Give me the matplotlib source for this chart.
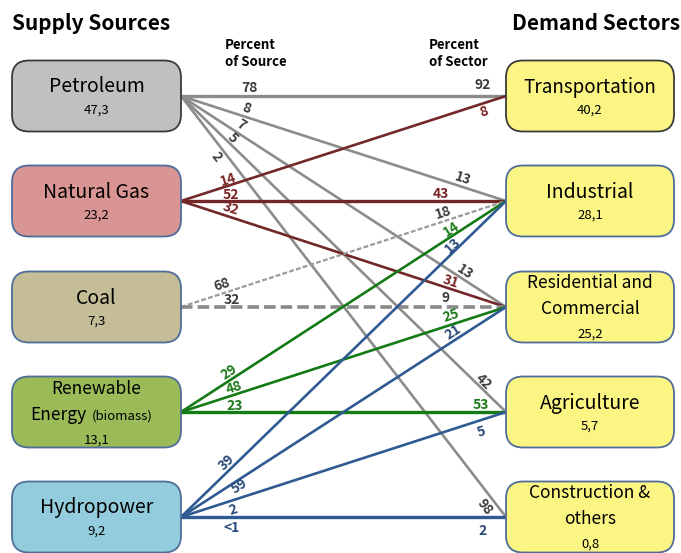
import numpy as np
import matplotlib
matplotlib.use("Agg")
import matplotlib.pyplot as plt
from matplotlib.patches import FancyBboxPatch

plt.rcParams['font.family'] = ['Noto Sans CJK KR', 'DejaVu Sans']

# ---------------- data ----------------
sources = ["Petroleum", "Natural Gas", "Coal", "Renewable", "Hydropower"]
source_values = ["47,3", "23,2", "7,3", "13,1", "9,2"]
sectors = ["Transportation", "Industrial", "Residential and\nCommercial", "Agriculture", "Construction &\nothers"]
sector_values = ["40,2", "28,1", "25,2", "5,7", "0,8"]

link_src = [0, 0, 0, 0, 0, 1, 1, 1, 2, 2, 3, 3, 3, 4, 4, 4, 4]
link_dst = [0, 1, 2, 3, 4, 0, 1, 2, 1, 2, 1, 2, 3, 1, 2, 3, 4]
pct_of_source = ["78", "8", "7", "5", "2", "14", "52", "32", "68", "32",
                 "29", "48", "23", "39", "59", "2", "<1"]
pct_of_sector = ["92", "13", "13", "42", "98", "8", "43", "31", "18", "9",
                 "14", "25", "53", "13", "21", "5", "2"]

# ---------------- layout / style ----------------
W, H = 681, 553
fig = plt.figure(figsize=(W / 100, H / 100), dpi=100)
ax = fig.add_axes([0, 0, 1, 1])
ax.set_xlim(0, W)
ax.set_ylim(H, 0)
ax.axis('off')

row_y = [96, 201, 307, 412, 517]
box_h = 71
src_x0, src_x1 = 12, 181
dst_x0, dst_x1 = 506, 674

src_fill = ['#c0c0c0', '#d99594', '#c4bd97', '#9bbb59', '#93cddd']
src_edge = ['#3a3a3a', '#4f6d99', '#4f6d99', '#4f6d99', '#4f6d99']
dst_fill = '#fbf583'
dst_edge = ['#3a3a3a', '#4f6d99', '#4f6d99', '#4f6d99', '#4f6d99']

line_col = ['#8c8c8c', '#722828', '#8c8c8c', '#137a16', '#2f5a92']
lab_col = ['#3c3c3c', '#7a2424', '#3c3c3c', '#1a7a1a', '#2a4a78']

# label offsets: (distance along line, perpendicular offset) in pixels
src_lab_off = [(68, 8), (66, 8.5), (66, 8.5), (66, 6), (70, -9),
               (52, 6), (50, 6), (50, 8),
               (46, 9), (51, 7),
               (62, 7), (58, 7), (54, 6),
               (71, 7), (66, -6), (52, -9), (51, -11)]
dst_lab_off = [(23, 11), (48, 8), (53, 7), (37, 6), (21, -11),
               (26, -8.5), (65, 7), (60, 6.5),
               (63, 8), (60, 9),
               (61, 6.5), (55, 9), (25, 7),
               (69, 5), (58, 8), (30, -11), (23, -14)]


def rbox(x0, x1, yc, fc, ec):
    p = FancyBboxPatch((x0, yc - box_h / 2), x1 - x0, box_h,
                       boxstyle="round,pad=0,rounding_size=17",
                       fc=fc, ec=ec, lw=1.3, zorder=5)
    ax.add_patch(p)


# links
for k in range(len(link_src)):
    s, d = link_src[k], link_dst[k]
    x1, y1 = src_x1, row_y[s]
    x2, y2 = dst_x0, row_y[d]
    dx, dy = x2 - x1, y2 - y1
    L = np.hypot(dx, dy)
    ux, uy = dx / L, dy / L
    nx, ny = uy, -ux
    horiz = (s == d) or abs(dy) < 3
    lw = 2.4 if horiz else 1.9
    if s == 2:
        if horiz:
            ax.plot([x1, x2], [y1, y2], color='#8a8a8a', lw=2.6,
                    dashes=(3.2, 1.4), zorder=2, solid_capstyle='butt')
        else:
            ax.plot([x1, x2], [y1, y2], color='#9a9a9a', lw=1.6,
                    dashes=(2.2, 1.0), zorder=2)
    else:
        ax.plot([x1, x2], [y1, y2], color=line_col[s], lw=lw, zorder=2,
                solid_capstyle='butt')
    ang = np.degrees(np.arctan2(-dy, dx))
    a, p = src_lab_off[k]
    ax.text(x1 + ux * a + nx * p, y1 + uy * a + ny * p, pct_of_source[k],
            color=lab_col[s], fontsize=10, fontweight='bold',
            ha='center', va='center', rotation=ang,
            rotation_mode='anchor', zorder=4)
    a, p = dst_lab_off[k]
    ax.text(x2 - ux * a + nx * p, y2 - uy * a + ny * p, pct_of_sector[k],
            color=lab_col[s], fontsize=10, fontweight='bold',
            ha='center', va='center', rotation=ang,
            rotation_mode='anchor', zorder=4)

# source boxes
scx = (src_x0 + src_x1) / 2
for i, name in enumerate(sources):
    yc = row_y[i]
    rbox(src_x0, src_x1, yc, src_fill[i], src_edge[i])
    if i == 3:
        ax.text(scx, yc - 23, "Renewable", fontsize=12.5, ha='center', va='center', zorder=6)
        ax.text(86, yc + 3, "Energy", fontsize=12.5, ha='right', va='center', zorder=6)
        ax.text(92, yc + 4, "(biomass)", fontsize=9.5, ha='left', va='center', zorder=6)
        ax.text(scx, yc + 28, source_values[i], fontsize=9.5, ha='center', va='center', zorder=6)
    else:
        ax.text(scx, yc - 9, name, fontsize=14, ha='center', va='center', zorder=6)
        ax.text(scx, yc + 14, source_values[i], fontsize=9.5, ha='center', va='center', zorder=6)

# sector boxes
dcx = (dst_x0 + dst_x1) / 2
for j, name in enumerate(sectors):
    yc = row_y[j]
    rbox(dst_x0, dst_x1, yc, dst_fill, dst_edge[j])
    if "\n" in name:
        l1, l2 = name.split("\n")
        ax.text(dcx, yc - 24, l1, fontsize=12.5, ha='center', va='center', zorder=6)
        ax.text(dcx, yc + 2, l2, fontsize=12.5, ha='center', va='center', zorder=6)
        ax.text(dcx, yc + 27, sector_values[j], fontsize=9.5, ha='center', va='center', zorder=6)
    else:
        ax.text(dcx, yc - 9, name, fontsize=14 if j != 0 else 13.5, ha='center', va='center', zorder=6)
        ax.text(dcx, yc + 14, sector_values[j], fontsize=9.5, ha='center', va='center', zorder=6)

# headings
ax.text(12, 23, "Supply Sources", fontsize=15, fontweight='bold', ha='left', va='center')
ax.text(680, 23, "Demand Sectors", fontsize=15, fontweight='bold', ha='right', va='center')
ax.text(225, 45, "Percent", fontsize=9.5, fontweight='bold', ha='left', va='center')
ax.text(225, 62, "of Source", fontsize=9.5, fontweight='bold', ha='left', va='center')
ax.text(429, 45, "Percent", fontsize=9.5, fontweight='bold', ha='left', va='center')
ax.text(429, 62, "of Sector", fontsize=9.5, fontweight='bold', ha='left', va='center')

fig.savefig("out.png", dpi=100)
